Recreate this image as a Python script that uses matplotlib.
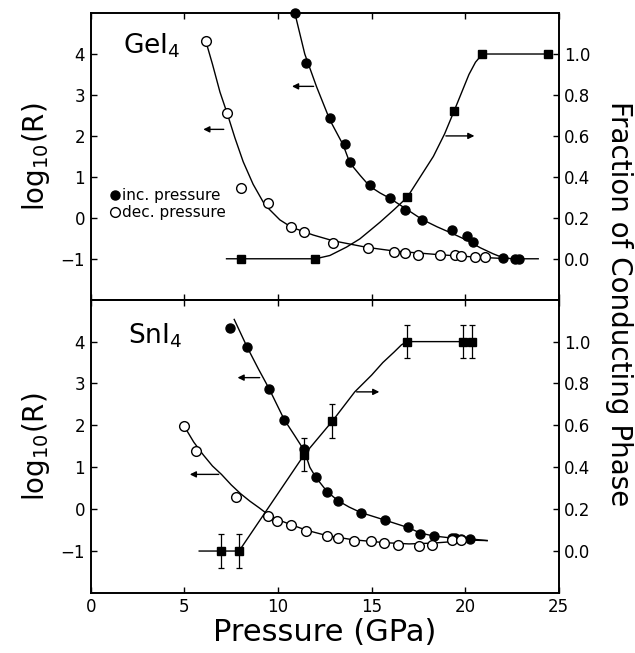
import matplotlib
matplotlib.use("Agg")
import matplotlib.pyplot as plt

plt.rcParams['font.family'] = ['DejaVu Sans']
plt.rcParams['mathtext.fontset'] = 'dejavusans'

# ---- GeI4 (top panel) ----
ge_inc_p = [10.93, 11.5, 12.8, 13.57, 13.87, 14.9, 16.0, 16.8, 17.7, 19.3, 20.1, 20.4, 22.0, 22.65, 22.9]
ge_inc_r = [5.0, 3.78, 2.43, 1.8, 1.36, 0.8, 0.49, 0.2, -0.05, -0.3, -0.45, -0.6, -0.98, -1.0, -1.0]
ge_dec_p = [6.14, 7.28, 8.03, 9.47, 10.72, 11.38, 12.94, 14.81, 16.2, 16.77, 17.5, 18.68, 19.45, 19.8, 20.55, 21.08]
ge_dec_r = [4.32, 2.55, 0.72, 0.35, -0.23, -0.35, -0.61, -0.74, -0.84, -0.85, -0.9, -0.92, -0.92, -0.94, -0.96, -0.96]
ge_frac_p = [8.0, 12.0, 16.9, 19.4, 20.92, 24.43]
ge_frac = [0.0, 0.0, 0.30, 0.72, 1.0, 1.0]

# guide curves
ge_inc_cp = [10.9, 11.0, 11.43, 12.06, 12.77, 13.48, 13.84, 14.4, 14.9, 15.44, 16.0, 16.9, 17.7,
             18.5, 19.3, 20.1, 20.8, 21.5, 22.0, 22.5, 23.9]
ge_inc_cr = [5.0, 4.81, 4.0, 3.2, 2.39, 1.78, 1.34, 1.03, 0.77, 0.61, 0.47, 0.2, -0.04,
             -0.22, -0.38, -0.55, -0.73, -0.88, -0.97, -1.0, -1.0]
ge_dec_cp = [6.14, 6.5, 6.9, 7.3, 7.7, 8.14, 8.67, 9.29, 10.1, 10.72, 11.88, 12.94,
             14.73, 16.2, 18.6, 20.6, 21.9]
ge_dec_cr = [4.32, 3.75, 3.07, 2.53, 1.95, 1.37, 0.82, 0.32, -0.05, -0.23, -0.42, -0.56,
             -0.72, -0.81, -0.9, -0.96, -0.99]
ge_frac_cp = [7.25, 12.0, 12.77, 13.66, 14.37, 14.9, 15.44, 16.2, 16.9, 17.6, 18.3, 18.9, 19.4,
              19.8, 20.2, 20.55, 20.92, 24.6]
ge_frac_c = [0.0, 0.0, 0.016, 0.057, 0.097, 0.137, 0.178, 0.24, 0.30, 0.40, 0.50, 0.61, 0.72,
             0.81, 0.90, 0.96, 1.0, 1.0]

# ---- SnI4 (bottom panel) ----
sn_inc_p = [7.46, 8.35, 9.52, 10.33, 11.38, 12.02, 12.62, 13.21, 14.41, 15.7, 16.95, 17.61, 18.32, 19.27, 19.44, 19.8, 20.25]
sn_inc_r = [4.33, 3.87, 2.88, 2.14, 1.44, 0.76, 0.42, 0.2, -0.08, -0.25, -0.43, -0.59, -0.65, -0.70, -0.69, -0.71, -0.71]
sn_dec_p = [4.99, 5.61, 7.73, 9.44, 9.92, 10.72, 11.5, 12.6, 13.2, 14.06, 14.96, 15.67, 16.42, 17.52, 18.25, 19.27, 19.8]
sn_dec_r = [1.98, 1.39, 0.28, -0.16, -0.29, -0.37, -0.52, -0.63, -0.70, -0.77, -0.77, -0.81, -0.86, -0.89, -0.85, -0.73, -0.73]
sn_frac_p = [6.93, 7.92, 11.4, 12.9, 16.9, 19.9, 20.37]
sn_frac = [0.0, 0.0, 0.46, 0.62, 1.0, 1.0, 1.0]
sn_frac_err = [0.08, 0.08, 0.08, 0.08, 0.08, 0.08, 0.08]

sn_inc_cp = [7.66, 8.35, 8.95, 9.52, 10.33, 10.9, 11.4, 11.7, 12.02, 12.62, 13.21, 13.8, 14.42,
             15.7, 16.95, 17.6, 18.3, 19.3, 20.25, 21.17]
sn_inc_cr = [4.53, 3.87, 3.35, 2.88, 2.14, 1.75, 1.4, 1.0, 0.76, 0.42, 0.2, 0.05, -0.08,
             -0.26, -0.44, -0.57, -0.64, -0.69, -0.71, -0.75]
sn_dec_cp = [4.99, 5.5, 6.0, 6.5, 6.98, 7.5, 8.0, 8.5, 9.0, 9.44, 10.1, 10.7, 11.5, 12.6, 14.0,
             15.7, 17.0, 18.3, 19.5, 20.3, 21.17]
sn_dec_cr = [1.98, 1.6, 1.3, 1.03, 0.83, 0.58, 0.37, 0.19, 0.03, -0.12, -0.27, -0.37, -0.5, -0.63, -0.73,
             -0.8, -0.83, -0.81, -0.77, -0.74, -0.75]
sn_frac_cp = [5.79, 7.92, 11.4, 12.9, 14.1, 15.0, 15.6, 16.2, 16.6, 16.9, 20.4]
sn_frac_c = [0.0, 0.0, 0.46, 0.62, 0.76, 0.84, 0.90, 0.95, 0.985, 1.0, 1.0]

fig = plt.figure(figsize=(6.35, 6.53), dpi=100)
ax1 = fig.add_axes([0.143, 0.541, 0.737, 0.439])
ax2 = fig.add_axes([0.143, 0.092, 0.737, 0.449])
ax1r = ax1.twinx()
ax2r = ax2.twinx()

lw = 1.0
ms_c = 6.5


def style(ax, axr, bottom):
    ax.set_xlim(0, 25)
    ax.set_ylim(-2, 5)
    axr.set_ylim(-0.2, 1.2)
    ax.set_xticks([0, 5, 10, 15, 20, 25])
    ax.set_yticks([-1, 0, 1, 2, 3, 4])
    ax.set_yticklabels(['\u22121', '0', '1', '2', '3', '4'])
    axr.set_yticks([0, 0.2, 0.4, 0.6, 0.8, 1.0])
    axr.set_yticklabels(['0.0', '0.2', '0.4', '0.6', '0.8', '1.0'])
    ax.tick_params(direction='in', top=True, length=4, width=1, labelsize=12, pad=4)
    axr.tick_params(direction='in', length=4, width=1, labelsize=12, pad=4)
    if not bottom:
        ax.tick_params(labelbottom=False)
    for a in (ax, axr):
        for s in a.spines.values():
            s.set_linewidth(1.2)
    ax.set_ylabel('log$_{10}$(R)', fontsize=20, labelpad=6)


def arrow(ax, x0, x1, y):
    ax.annotate('', xy=(x1, y), xytext=(x0, y),
                arrowprops=dict(arrowstyle='-|>', lw=1.0, color='k', mutation_scale=9))


# top panel
ax1.plot(ge_inc_cp, ge_inc_cr, color='k', lw=lw)
ax1.plot(ge_dec_cp, ge_dec_cr, color='k', lw=lw)
h_inc, = ax1.plot(ge_inc_p, ge_inc_r, 'o', color='k', ms=ms_c, clip_on=False, label='inc. pressure')
h_dec, = ax1.plot(ge_dec_p, ge_dec_r, 'o', mfc='white', mec='k', mew=1.0, ms=ms_c + 0.5, label='dec. pressure')
ax1r.plot(ge_frac_cp, ge_frac_c, color='k', lw=lw)
ax1r.plot(ge_frac_p, ge_frac, 's', color='k', ms=6)
arrow(ax1, 12.05, 10.6, 3.21)
arrow(ax1, 7.25, 5.86, 2.16)
arrow(ax1r, 18.82, 20.64, 0.6)
ax1.text(1.7, 4.2, 'GeI$_4$', fontsize=19, va='center', ha='left')
ax1.legend(handles=[h_inc, h_dec], loc='upper left', bbox_to_anchor=(0.045, 0.39),
           frameon=False, fontsize=11, handlelength=0.4, handletextpad=0.25,
           labelspacing=0.15, borderpad=0, borderaxespad=0)
style(ax1, ax1r, False)

# bottom panel
ax2.plot(sn_inc_cp, sn_inc_cr, color='k', lw=lw)
ax2.plot(sn_dec_cp, sn_dec_cr, color='k', lw=lw)
ax2.plot(sn_inc_p, sn_inc_r, 'o', color='k', ms=ms_c)
ax2.plot(sn_dec_p, sn_dec_r, 'o', mfc='white', mec='k', mew=1.0, ms=ms_c + 0.5)
ax2r.plot(sn_frac_cp, sn_frac_c, color='k', lw=lw)
ax2r.errorbar(sn_frac_p, sn_frac, yerr=sn_frac_err, fmt='s', color='k', ms=6,
              capsize=2.5, elinewidth=0.9, capthick=0.9)
arrow(ax2, 9.17, 7.69, 3.14)
arrow(ax2, 6.98, 5.14, 0.83)
arrow(ax2r, 14.05, 15.56, 0.76)
ax2.text(2.0, 4.15, 'SnI$_4$', fontsize=19, va='center', ha='left')
style(ax2, ax2r, True)
ax2.set_xlabel('Pressure (GPa)', fontsize=22, labelpad=1)

fig.text(0.975, 0.535, 'Fraction of Conducting Phase', rotation=-90,
         fontsize=20, ha='center', va='center')

fig.savefig('out.png', dpi=100)
